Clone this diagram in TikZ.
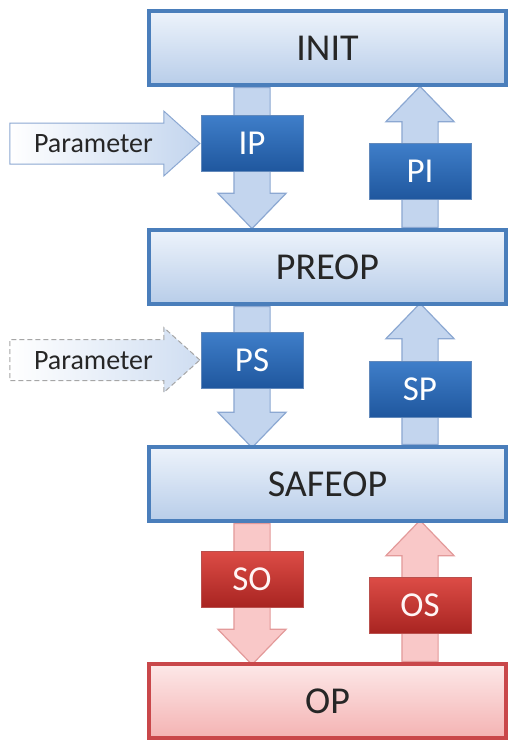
\documentclass[tikz,border=0pt]{standalone}
\usepackage{fontspec}
\setmainfont{Carlito}
\usepackage{tikz}
\usetikzlibrary{shapes.arrows,positioning,calc,backgrounds}
\definecolor{stateline}{HTML}{4A7EBB}
\definecolor{statetop}{HTML}{EDF3FB}
\definecolor{statebot}{HTML}{B8CDE9}
\definecolor{optop}{HTML}{FDE8E8}
\definecolor{opbot}{HTML}{F4B3B3}
\definecolor{opline}{HTML}{C9474A}
\definecolor{tagtop}{HTML}{3F7EC9}
\definecolor{tagbot}{HTML}{1F579E}
\definecolor{redtop}{HTML}{DC4C46}
\definecolor{redbot}{HTML}{A82421}
\definecolor{arrfill}{HTML}{C3D5EE}
\definecolor{arrline}{HTML}{8CA8D2}
\definecolor{rarrfill}{HTML}{F9C8C8}
\definecolor{rarrline}{HTML}{E39A9A}

\begin{document}
\begin{tikzpicture}[x=1pt, y=-1pt,
    state/.style={draw=stateline, line width=4pt, top color=statetop, bottom color=statebot, minimum width=357pt, minimum height=74pt, font=\fontsize{38}{40}\selectfont, text=black!85},
    opstate/.style={state, draw=opline, top color=optop, bottom color=opbot},
    tag/.style={draw=tagbot!70, line width=0.8pt, top color=tagtop, bottom color=tagbot, minimum width=102pt, minimum height=56pt, inner sep=0pt, font=\fontsize{35}{36}\selectfont, text=white},
    redtag/.style={tag, draw=redbot!80, top color=redtop, bottom color=redbot, text=red!4},
    flow/.style={single arrow, draw=arrline, line width=1.2pt, fill=arrfill, inner xsep=0pt, inner ysep=17.5pt, single arrow head extend=16pt, single arrow tip angle=88, minimum height=141pt, anchor=tail},
    redflow/.style={flow, draw=rarrline, fill=rarrfill},
    param/.style={single arrow, draw=arrline, line width=1pt, left color=white, right color=arrfill, text height=18pt, text depth=0pt, inner ysep=11pt, single arrow head extend=12pt, single arrow tip angle=84, minimum height=190pt, anchor=tip, font=\fontsize{28}{29}\selectfont, text=black!85}
]
\useasboundingbox (0,0) rectangle (509,740);

% States
\node[state] (init) at (327.5, 48) {INIT};
\node[state] (preop) at (327.5, 267) {PREOP};
\node[state] (safeop) at (327.5, 484) {SAFEOP};
\node[opstate] (op) at (327.5, 701) {OP};

% Transition labels
\node[tag] (ip) at (252, 143.5) {IP};
\node[tag] (pi) at (420, 171.5) {PI};
\node[tag] (ps) at (252, 360) {PS};
\node[tag] (sp) at (420, 389.5) {SP};
\node[redtag] (so) at (252, 579.5) {SO};
\node[redtag] (os) at (420, 605.5) {OS};

% Parameter inputs
\node[param] (par1) at (ip.west) {Parameter};
\node[param, dashed, dash pattern=on 5pt off 3pt, draw=gray!70, right color=arrfill!80] (par2) at (ps.west) {Parameter};

% Transitions (behind the labels)
\begin{scope}[on background layer]
\node[flow, rotate=-90] (ipflow) at (init.south -| ip) {};
\node[flow, rotate=90] (piflow) at (preop.north -| pi) {};
\node[flow, rotate=-90] (psflow) at (preop.south -| ps) {};
\node[flow, rotate=90] (spflow) at (safeop.north -| sp) {};
\node[redflow, rotate=-90] (soflow) at (safeop.south -| so) {};
\node[redflow, rotate=90] (osflow) at (op.north -| os) {};
\end{scope}

\end{tikzpicture}
\end{document}
